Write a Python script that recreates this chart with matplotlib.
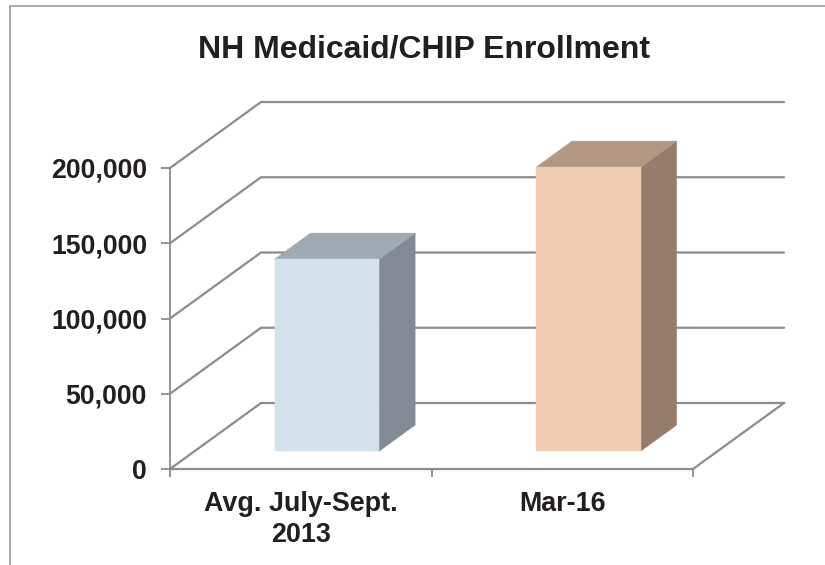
import matplotlib
matplotlib.use("Agg")
import matplotlib.pyplot as plt
from matplotlib.patches import Rectangle

categories = ["Avg. July-Sept.\n2013", "Mar-16"]
enrollment = [127600, 188700]
y_ticks = [0, 50000, 100000, 150000, 200000]

front_colors = ["#d3e1ea", "#f0ccb2"]
top_colors = ["#9faab4", "#b39783"]
side_colors = ["#828b94", "#957c6c"]
line_color = "#8c8c8c"
text_color = "#231f20"

plt.rcParams["font.family"] = ["Liberation Sans", "DejaVu Sans"]
plt.rcParams["font.weight"] = "bold"

W, H = 825, 565
fig = plt.figure(figsize=(W / 100, H / 100), dpi=100)

# Grey chart frame, runs off the right and bottom of the picture
fig.add_artist(Rectangle((10 / W, -0.1), 1.1, 1.1 + (H - 6) / H - 1, transform=fig.transFigure,
                         fill=False, edgecolor="#a0a3a6", linewidth=1.3))

# Front plane of the 3D box
ax = fig.add_axes([170 / W, (H - 469) / H, (693 - 170) / W, (469 - 168) / H])
ax.set_xlim(0, len(categories))
ax.set_ylim(0, max(y_ticks))
ax.patch.set_visible(False)

# Depth of the box, in axis units
depth_x = 91 / 261.5
depth_y = 66 / 301 * max(y_ticks)


def project(x, value, depth):
    return x + depth * depth_x, value + depth * depth_y


def face(corners, color, zorder=3):
    pts = [project(*c) for c in corners]
    ax.fill([p[0] for p in pts], [p[1] for p in pts], facecolor=color, edgecolor=color,
            linewidth=0.3, zorder=zorder, clip_on=False)


# Walls and floor
xmax = len(categories)
for v in y_ticks:
    xs, ys = zip(project(0, v, 0), project(0, v, 1), project(xmax, v, 1))
    ax.plot(xs, ys, color=line_color, lw=1.6, clip_on=False, zorder=1, solid_capstyle="round")
xs, ys = zip(project(xmax, 0, 1), project(xmax, 0, 0), project(0, 0, 0))
ax.plot(xs, ys, color=line_color, lw=1.6, clip_on=False, zorder=1)

# Bars
bar_width = 0.4
bar_front = 0.27
bar_back = 0.665
for i, val in enumerate(enrollment):
    x0 = i + 0.506 - bar_width / 2
    x1 = x0 + bar_width
    face([(x1, 0, bar_front), (x1, 0, bar_back), (x1, val, bar_back), (x1, val, bar_front)], side_colors[i])
    face([(x0, val, bar_front), (x1, val, bar_front), (x1, val, bar_back), (x0, val, bar_back)], top_colors[i])
    face([(x0, 0, bar_front), (x1, 0, bar_front), (x1, val, bar_front), (x0, val, bar_front)], front_colors[i], 4)

for side in ["top", "right", "bottom"]:
    ax.spines[side].set_visible(False)
ax.spines["left"].set_color(line_color)
ax.spines["left"].set_linewidth(1.3)

ax.set_yticks(y_ticks)
ax.set_yticklabels([f"{v:,}" for v in y_ticks], fontsize=19.2, fontweight="bold", color=text_color)
ax.tick_params(axis="y", length=6.5, width=1.3, color=line_color, pad=10)

ax.set_xticks(range(len(categories) + 1))
ax.set_xticklabels([])
ax.set_xticks([i + 0.5 for i in range(len(categories))], minor=True)
ax.set_xticklabels(categories, minor=True, fontsize=19.4, fontweight="bold", color=text_color, linespacing=1.22)
ax.tick_params(axis="x", which="major", length=6, width=1.3, color=line_color)
ax.tick_params(axis="x", which="minor", length=0, pad=16)

fig.text(424 / W, (H - 50) / H, "NH Medicaid/CHIP Enrollment", ha="center", va="center",
         fontsize=23, fontweight="bold", color=text_color)

plt.savefig("out.png", dpi=100)
